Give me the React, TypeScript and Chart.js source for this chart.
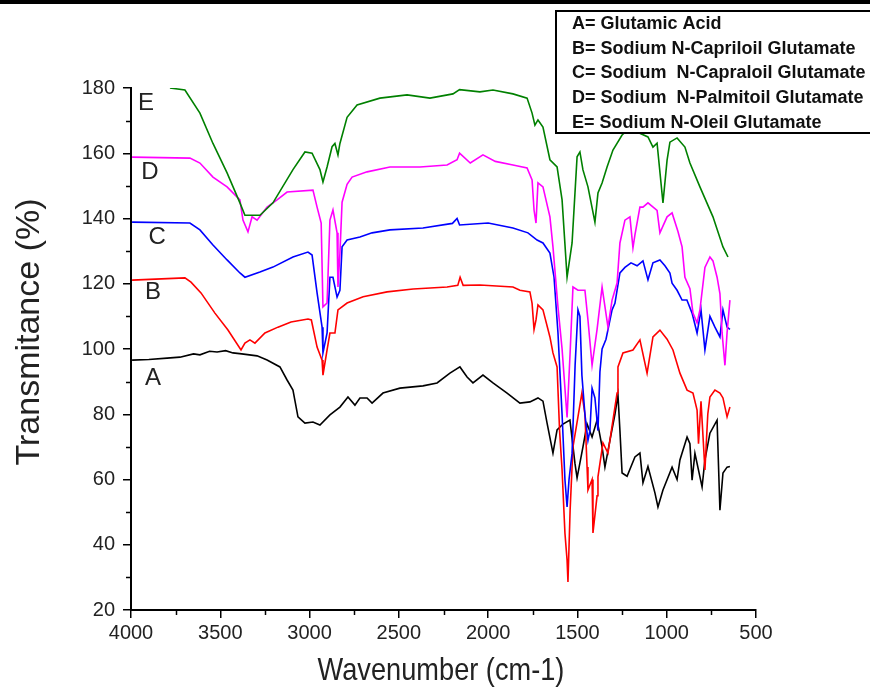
import React, { useEffect, useRef } from 'react';
import { Chart, registerables } from 'chart.js';

Chart.register(...registerables);

// ---------- data ----------
const legendLabels = [
  'A= Glutamic Acid',
  'B= Sodium N-Capriloil Glutamate',
  'C= Sodium  N-Capraloil Glutamate',
  'D= Sodium  N-Palmitoil Glutamate',
  'E= Sodium N-Oleil Glutamate',
];
const curveLetters = ['A', 'B', 'C', 'D', 'E'];
const colors = ['#000000', '#ff0000', '#0000ff', '#ff00ff', '#008000'];

const aWave = [3994,3900,3798,3726,3650,3614,3560,3518,3470,3429,3380,3294,3238,3166,3126,3093,3065,3026,2981,2942,2886,2830,2785,2746,2718,2678,2650,2589,2494,2365,2286,2214,2158,2118,2085,2029,1973,1894,1822,1766,1721,1693,1670,1637,1614,1581,1542,1514,1502,1469,1446,1418,1390,1362,1346,1318,1290,1273,1262,1250,1222,1178,1150,1133,1105,1066,1049,1021,970,942,926,886,870,858,842,802,786,758,718,702,685,662,646];
const aTrans = [96.6,96.8,97.2,97.5,98.5,98.2,99.3,99.1,99.5,98.8,98.5,97.9,96.6,94.5,90.5,87.4,79.2,77.3,77.6,76.7,79.8,82.2,85.3,82.8,85,85,83.4,86.5,88,88.7,89.6,92.6,94.5,91.4,89.6,92,89.6,86.5,83.4,83.8,85,84,77.3,68.1,75.2,77,78.2,65,60.5,70,77,73,78.2,70,63.8,72,80,85.9,75,62,61,66.9,68.1,59,64,55.9,51.6,56.8,63.8,60,66,73,71,59.8,68,57.7,66,74.2,78.2,50.6,62,63.8,64];

const bWave = [3994,3698,3664,3608,3530,3457,3384,3362,3334,3306,3250,3177,3104,3009,2990,2958,2930,2925,2902,2886,2858,2841,2790,2700,2566,2420,2230,2170,2157,2140,2046,1861,1822,1766,1754,1743,1732,1721,1693,1654,1637,1614,1600,1586,1570,1558,1553,1541,1525,1497,1475,1458,1446,1441,1418,1413,1390,1385,1357,1329,1301,1278,1273,1245,1189,1150,1110,1077,1038,998,965,926,886,853,830,822,808,786,770,758,730,702,685,662,646];
const bTrans = [121.1,121.8,120.5,117.2,111,105.8,99.7,101.8,102.8,101.8,104.9,106.7,108.3,109.2,108.9,100.6,96.6,92,99.7,104.9,104.9,112,114.1,116,117.5,118.4,119,119.5,122,119.5,119.6,119,118,117.5,114,106,108.9,113.5,112,103.7,98.8,94.5,75,62.9,43.6,35.3,28.6,50.6,70,79.2,86.5,80,63.8,56.8,60,43.6,55,60.8,71.2,68.1,78.2,86.5,94.5,98.8,99.7,102.8,92.6,103.7,105.8,103,99.7,92.6,87.4,86.5,81.3,71,84,62.9,80,85.3,87.4,86.5,85,79.2,82.2];

const cWave = [3994,3670,3614,3541,3462,3390,3362,3278,3205,3093,3009,2986,2958,2930,2925,2902,2886,2869,2846,2830,2818,2790,2718,2650,2550,2365,2200,2174,2160,2000,1861,1777,1726,1693,1654,1631,1609,1586,1570,1558,1547,1530,1513,1497,1486,1475,1458,1441,1430,1418,1402,1385,1374,1362,1340,1306,1290,1262,1234,1200,1166,1133,1105,1077,1038,1010,982,970,942,914,887,858,830,808,786,758,730,702,685,662,646];
const cTrans = [138.9,138.6,136.5,131.9,127.3,123.3,122,123.6,125.1,128.2,129.7,128.8,117.2,106.7,98.8,104.9,122,122,115.9,118,131.3,133.4,134.3,135.6,136.5,137.1,138.5,140,138,138.6,137.1,135.6,133.4,132.5,129.4,122,105,80,60,51.6,60,68,95,112,110,92,80,72,75,88,85,75,93,100,103,112,114,123.3,125,126.4,125.5,127,121.2,126.4,127.3,125.5,123.3,120.2,118,115,115,111,104.9,112,99.7,110,106.7,103.7,112,106.7,106];

const dWave = [3994,3670,3614,3541,3462,3390,3373,3345,3322,3294,3238,3182,3126,2981,2958,2935,2925,2902,2886,2869,2846,2841,2830,2818,2790,2762,2678,2550,2382,2230,2174,2160,2100,2029,1960,1861,1782,1754,1743,1732,1721,1693,1654,1637,1609,1586,1558,1540,1525,1497,1458,1441,1418,1390,1362,1329,1306,1278,1262,1234,1206,1189,1178,1150,1133,1105,1054,1038,998,970,937,914,898,870,853,830,814,786,758,741,718,702,690,674,662,646];
const dTrans = [158.8,158.5,157,152.7,149.7,145.7,139.5,135.9,140.5,139.5,143.5,145.7,148.1,148.7,143.5,138.6,112.9,114.1,139.5,142.6,135.6,119,129.4,145,150.5,152.7,154.3,155.8,155.8,156.4,158,160,157,159.5,157.5,156.4,155.5,151.8,142.6,138.6,150.9,149.7,140.5,131.3,112.9,100,79,100,119,118,118,108.9,95,106,119,106.7,115,120.2,132.5,139.5,140.5,131,135,143.5,143.5,144.8,142.5,135.6,140.5,141.7,136,131.3,122,118.5,111,108,112,125,128.2,127,122,117,105,95,105,115];

const eWave = [3782,3698,3614,3541,3462,3390,3362,3278,3205,3093,3026,2986,2942,2925,2902,2874,2858,2841,2830,2790,2734,2606,2454,2326,2197,2160,2046,1973,1861,1782,1754,1738,1721,1693,1654,1614,1586,1558,1530,1502,1486,1469,1441,1402,1385,1362,1334,1301,1250,1200,1166,1105,1077,1054,1021,998,982,942,898,870,814,741,685,657];
const eTrans = [180,179.4,172.3,163,154,144.8,141,141,144.8,155,160.4,160,155,151.2,155.8,162,163,159.5,163,171,174.8,176.9,177.9,176.9,178.2,179.5,178.8,179.4,178.2,176.9,172.3,168.6,170.2,168,158,155.8,145.7,122,132.5,158.9,160.4,154.9,149.7,138.9,147.8,150.9,155.8,161,165.6,168,166.5,165,161.9,163.1,144.8,157.9,163.4,164.7,161.9,157,149.7,140.5,131.3,128.2];

const seriesWave = [aWave, bWave, cWave, dWave, eWave];
const seriesTrans = [aTrans, bTrans, cTrans, dTrans, eTrans];

// curve tag positions (wavenumber, transmittance)
const letterWave = [3877, 3877, 3854, 3894, 3916];
const letterTrans = [91, 117.5, 134.3, 154, 175.4];

const xTickValues = [4000, 3500, 3000, 2500, 2000, 1500, 1000, 500];
const xTickLabels = ['4000', '3500', '3000', '2500', '2000', '1500', '1000', '500'];
const xMinorTicks = [3750, 3250, 2750, 2250, 1750, 1250, 750];
const yTickValues = [20, 40, 60, 80, 100, 120, 140, 160, 180];
const yTickLabels = ['20', '40', '60', '80', '100', '120', '140', '160', '180'];
const yMinorTicks = [30, 50, 70, 90, 110, 130, 150, 170];

const xTitle = 'Wavenumber (cm-1)';
const yTitle = 'Transmitance (%)';

const FONT = '"Liberation Sans", Arial, sans-serif';

export default function App() {
  const ref = useRef<HTMLCanvasElement>(null);

  useEffect(() => {
    document.body.style.margin = '0';
    const canvas = ref.current!;

    const datasets = seriesWave.map((w, i) => ({
      label: legendLabels[i],
      data: w.map((x, k) => ({ x, y: seriesTrans[i][k] })),
      borderColor: colors[i],
      backgroundColor: colors[i],
      borderWidth: 1.6,
      pointRadius: 0,
      tension: 0,
      fill: false,
      order: 5 - i,
    }));

    const decor = {
      id: 'decor',
      afterDraw(chart: any) {
        const ctx = chart.ctx as CanvasRenderingContext2D;
        const xs = chart.scales.x;
        const ys = chart.scales.y;
        ctx.save();
        // minor ticks
        ctx.strokeStyle = '#000';
        ctx.lineWidth = 1.5;
        xMinorTicks.forEach((v) => {
          const px = Math.round(xs.getPixelForValue(v)) + 0.5;
          ctx.beginPath();
          ctx.moveTo(px, ys.bottom);
          ctx.lineTo(px, ys.bottom + 5);
          ctx.stroke();
        });
        yMinorTicks.forEach((v) => {
          const py = Math.round(ys.getPixelForValue(v)) + 0.5;
          ctx.beginPath();
          ctx.moveTo(xs.left - 5, py);
          ctx.lineTo(xs.left, py);
          ctx.stroke();
        });

        // curve letters
        ctx.fillStyle = '#222';
        ctx.font = `24px ${FONT}`;
        ctx.textAlign = 'center';
        ctx.textBaseline = 'middle';
        curveLetters.forEach((l, i) => {
          ctx.fillText(l, xs.getPixelForValue(letterWave[i]), ys.getPixelForValue(letterTrans[i]));
        });

        // axis titles
        ctx.save();
        ctx.translate(30, 332);
        ctx.rotate(-Math.PI / 2);
        ctx.font = `34px ${FONT}`;
        ctx.fillText(yTitle, 0, 0);
        ctx.restore();

        ctx.save();
        ctx.translate(441, 671);
        ctx.scale(0.85, 1);
        ctx.font = `32px ${FONT}`;
        ctx.fillText(xTitle, 0, 0);
        ctx.restore();

        // legend box
        ctx.fillStyle = '#fff';
        ctx.fillRect(555, 10, 330, 123);
        ctx.strokeStyle = '#000';
        ctx.lineWidth = 2;
        ctx.strokeRect(556, 11, 330, 122);
        ctx.fillStyle = '#111';
        ctx.font = `bold 18px ${FONT}`;
        ctx.textAlign = 'left';
        ctx.textBaseline = 'middle';
        legendLabels.forEach((t, i) => {
          ctx.fillText(t, 572, 24 + i * 24.7);
        });

        // top bar
        ctx.fillStyle = '#000';
        ctx.fillRect(0, 0, 870, 4);
        ctx.restore();
      },
    };

    const chart = new Chart(canvas, {
      type: 'line',
      data: { datasets },
      options: {
        responsive: false,
        animation: false,
        devicePixelRatio: 1,
        layout: { padding: { top: 88, right: 114, left: 0, bottom: 0 } },
        plugins: { legend: { display: false }, tooltip: { enabled: false } },
        scales: {
          x: {
            type: 'linear',
            reverse: true,
            min: 500,
            max: 4000,
            afterFit: (s: any) => { s.height = 79; },
            afterBuildTicks: (s: any) => { s.ticks = xTickValues.map((v) => ({ value: v })); },
            ticks: {
              autoSkip: false,
              maxRotation: 0,
              padding: 3,
              color: '#222',
              font: { family: FONT, size: 20 },
              callback: (v: any) => xTickLabels[xTickValues.indexOf(Number(v))] ?? '',
            },
            grid: { drawOnChartArea: false, drawTicks: true, tickLength: 8, color: '#000', lineWidth: 1.5 },
            border: { display: true, color: '#000', width: 2 },
          },
          y: {
            type: 'linear',
            min: 20,
            max: 180,
            afterFit: (s: any) => { s.width = 131; },
            afterBuildTicks: (s: any) => { s.ticks = yTickValues.map((v) => ({ value: v })); },
            ticks: {
              autoSkip: false,
              padding: 8,
              color: '#222',
              font: { family: FONT, size: 20 },
              callback: (v: any) => yTickLabels[yTickValues.indexOf(Number(v))] ?? '',
            },
            grid: { drawOnChartArea: false, drawTicks: true, tickLength: 8, color: '#000', lineWidth: 1.5 },
            border: { display: true, color: '#000', width: 2 },
          },
        },
      },
      plugins: [decor],
    } as any);

    return () => chart.destroy();
  }, []);

  return <canvas ref={ref} width={870} height={689} style={{ display: 'block' }} />;
}
